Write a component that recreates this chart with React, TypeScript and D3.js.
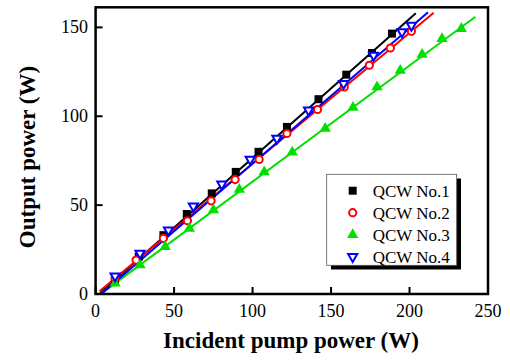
import React from "react";
import { scaleLinear, line, symbol, symbolSquare, symbolTriangle } from "d3";

// incident pump power (W) vs output power (W)
const no1X = [12.4, 27.5, 43.2, 58.1, 74, 89.3, 103.8, 121.9, 142, 159.7, 176.1, 188.8];
const no1Y = [7.9, 21, 33.1, 45, 56.6, 68.7, 80, 94, 109.6, 123.4, 135.6, 146.5];
const no2X = [12.4, 25.8, 43.2, 58.5, 73.6, 88.9, 104.2, 121.9, 141.4, 158.4, 174.4, 187.8, 201.2];
const no2Y = [8.8, 19.1, 31.3, 41.2, 52.4, 64.4, 75.7, 90.3, 103.8, 116.5, 128.7, 138.4, 147.8];
const no3X = [12.4, 28.3, 44.3, 59.8, 75.1, 91.6, 107.4, 125.3, 146.3, 164, 179.3, 194.1, 208, 220.7, 233];
const no3Y = [6, 16.3, 26.6, 36.9, 47.2, 58.8, 68.7, 79.8, 93.1, 104.9, 116.5, 125.8, 134.7, 143.6, 149.3];
const no4X = [12.4, 28.3, 46.4, 62.3, 80.4, 98.5, 115.5, 135.7, 158, 177.1, 195.2, 201.2];
const no4Y = [10.1, 22.9, 36, 49.4, 61.8, 75.7, 87.5, 103.4, 118.4, 134.3, 147.4, 151.1];

// linear fit end points [x0, y0, x1, y1]
const fit1 = [3, 0.5, 204, 158];
const fit2 = [2.5, 1.5, 215.4, 158.2];
const fit3 = [4, 0.5, 242, 156];
const fit4 = [4, 0.3, 211.8, 158.5];

const seriesNames = ["QCW No.1", "QCW No.2", "QCW No.3", "QCW No.4"];
const xTicks = [0, 50, 100, 150, 200, 250];
const yTicks = [0, 50, 100, 150];

const W = 510;
const H = 361;
const left = 95.6, right = 488, top = 7.3, bottom = 294;
const font = "Liberation Serif, serif";

const x = scaleLinear().domain([0, 250]).range([left, right]);
const y = scaleLinear().domain([0, 161.3]).range([bottom, top]);

const series = [
  { xs: no1X, ys: no1Y, fit: fit1, color: "#000000", shape: "square" },
  { xs: no2X, ys: no2Y, fit: fit2, color: "#ff0000", shape: "circle" },
  { xs: no3X, ys: no3Y, fit: fit3, color: "#00e000", shape: "up" },
  { xs: no4X, ys: no4Y, fit: fit4, color: "#0000ff", shape: "down" },
];

const Marker = ({ shape, color, cx, cy }: any) => {
  if (shape === "square") {
    return <path d={symbol(symbolSquare, 64)()!} transform={`translate(${cx},${cy})`} fill={color} />;
  }
  if (shape === "circle") {
    return <circle cx={cx} cy={cy} r={3.6} fill="white" stroke={color} strokeWidth={2} />;
  }
  if (shape === "up") {
    return <path d={symbol(symbolTriangle, 55)()!} transform={`translate(${cx},${cy})`} fill={color} />;
  }
  return (
    <path
      d={symbol(symbolTriangle, 36)()!}
      transform={`translate(${cx},${cy}) rotate(180)`}
      fill="white"
      stroke={color}
      strokeWidth={2}
    />
  );
};

const fitLine = line<number[]>()
  .x((d) => x(d[0]))
  .y((d) => y(d[1]));

export default function App() {
  return (
    <svg width={W} height={H} style={{ position: "absolute", left: 0, top: 0, background: "white" }}>
      {/* fit lines */}
      {series.map((s, i) => (
        <path
          key={"l" + i}
          d={fitLine([[s.fit[0], s.fit[1]], [s.fit[2], s.fit[3]]])!}
          stroke={s.color}
          strokeWidth={2}
          fill="none"
        />
      ))}
      {/* markers */}
      {series.map((s, i) =>
        s.xs.map((v, j) => (
          <Marker key={i + "-" + j} shape={s.shape} color={s.color} cx={x(v)} cy={y(s.ys[j])} />
        ))
      )}

      {/* frame */}
      <rect x={left} y={top} width={right - left} height={bottom - top} fill="none" stroke="black" strokeWidth={2.5} />

      {/* x ticks */}
      {xTicks.map((t) => (
        <g key={"x" + t}>
          <line x1={x(t)} x2={x(t)} y1={bottom} y2={bottom - 7} stroke="black" strokeWidth={2} />
          <text x={x(t)} y={317} textAnchor="middle" fontFamily={font} fontSize={18}>
            {t}
          </text>
        </g>
      ))}
      {/* y ticks */}
      {yTicks.map((t) => (
        <g key={"y" + t}>
          <line x1={left} x2={left + 7} y1={y(t)} y2={y(t)} stroke="black" strokeWidth={2} />
          <text x={88} y={y(t) + 6} textAnchor="end" fontFamily={font} fontSize={18}>
            {t}
          </text>
        </g>
      ))}

      {/* axis titles */}
      <text x={291} y={348} textAnchor="middle" fontFamily={font} fontSize={23} fontWeight="bold">
        Incident pump power (W)
      </text>
      <text
        transform={`translate(35,157) rotate(-90)`}
        textAnchor="middle"
        fontFamily={font}
        fontSize={23}
        fontWeight="bold"
      >
        Output power (W)
      </text>

      {/* legend */}
      <rect x={331} y={178.5} width={130} height={91} fill="black" />
      <rect x={326.7} y={174.3} width={130} height={91} fill="white" stroke="#555" strokeWidth={0.8} />
      {series.map((s, i) => {
        const ry = 190.7 + i * 22;
        return (
          <g key={"lg" + i}>
            <Marker shape={s.shape} color={s.color} cx={352.7} cy={ry} />
            <text x={372.7} y={ry + 6} fontFamily={font} fontSize={17}>
              {seriesNames[i]}
            </text>
          </g>
        );
      })}
    </svg>
  );
}
